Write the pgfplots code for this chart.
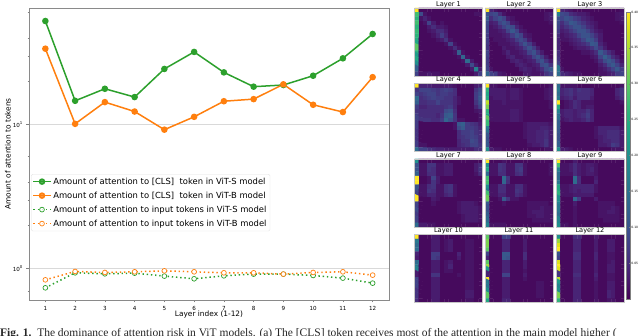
\documentclass[border=0pt]{standalone}
\usepackage{fontspec}
\setmainfont{DejaVu Sans}
\newfontfamily\capfont{Liberation Serif}
\usepackage{pgfplots}
\pgfplotsset{compat=1.18}
\definecolor{tabgreen}{HTML}{2CA02C}
\definecolor{taborange}{HTML}{FF7F0E}
\definecolor{spine}{HTML}{8A8A8A}

% one heatmap: values are 16x16 cells, row by row, in hundredths
\newcommand{\panel}[5][]{%
\begin{axis}[
    at={(#3pt,#4pt)}, anchor=south west, scale only axis,
    width=68pt, height=68pt,
    xmin=-0.5, xmax=15.5, ymin=-0.5, ymax=15.5,
    y dir=reverse, xtick=\empty, ytick=\empty,
    colormap/viridis, point meta min=0, point meta max=40,
    axis line style={draw=gray!45, line width=0.5pt}, axis on top,
    title={#2},
    title style={font=\fontsize{6.6}{7}\selectfont, at={(0.5,1)}, anchor=south, yshift=-9pt},
    #1
]
\addplot[matrix plot, mesh/cols=16, point meta=\thisrowno{0}] table[
    row sep=crcr, header=false,
    x expr={mod(\coordindex,16)}, y expr={floor(\coordindex/16)}
] {#5};
\end{axis}}

\begin{document}
\begin{tikzpicture}[x=1pt,y=1pt]
\useasboundingbox (0,0) rectangle (640,335);
\clip (0,0) rectangle (640,335);

\begin{axis}[
    at={(29pt,35pt)}, anchor=south west, scale only axis,
    width=360pt, height=292pt,
    ymode=log,
    xmin=0.45, xmax=12.55, ymin=0.604, ymax=64.4,
    xtick={1,...,12},
    ytick={1,10}, yticklabels={10\textsuperscript{0},10\textsuperscript{1}},
    minor ytick={0.6,0.7,2,3,4,6,20,30,40,60},
    ymajorgrids, grid style={draw=gray!30, line width=0.8pt},
    tick label style={font=\fontsize{5.6}{6}\selectfont},
    /pgf/number format/assume math mode=true,
    tick style={draw=gray, line width=0.4pt},
    major tick length=2.5pt, minor tick length=1.5pt,
    tick align=outside, xtick pos=bottom, ytick pos=left,
    axis line style={draw=spine, line width=0.8pt},
    xlabel={Layer index (1-12)}, ylabel={Amount of attention to tokens},
    label style={font=\fontsize{7.4}{8}\selectfont},
    xlabel style={at={(axis description cs:0.5,0)}, anchor=north, yshift=-10pt, inner sep=1pt},
    ylabel style={at={(axis description cs:0,0.5)}, anchor=south, yshift=17pt, inner sep=1pt},
    legend cell align=left,
    legend style={
        at={(axis description cs:0.0056,0.4315)}, anchor=north west,
        font=\fontsize{8.4}{9}\selectfont, draw=gray!25, rounded corners=1.5pt,
        fill=white, fill opacity=0.8, text opacity=1,
        row sep=2.1pt, inner sep=1.5pt,
        /tikz/every even column/.append style={column sep=3pt},
    },
]
\addplot[tabgreen, line width=1.5pt, mark=*, mark size=2.5pt] coordinates {
    (1,52.3) (2,14.6) (3,17.7) (4,15.5) (5,24.3) (6,31.9)
    (7,23.0) (8,18.3) (9,18.8) (10,21.8) (11,28.8) (12,42.5)
};
\addlegendentry{Amount of attention to [CLS]\ \ token in ViT-S model}
\addplot[taborange, line width=1.5pt, mark=*, mark size=2.5pt] coordinates {
    (1,33.6) (2,10.1) (3,14.3) (4,12.3) (5,9.2) (6,11.3)
    (7,14.5) (8,15.0) (9,19.0) (10,13.7) (11,12.2) (12,21.3)
};
\addlegendentry{Amount of attention to [CLS]\ \ token in ViT-B model}
\addplot[tabgreen, line width=1.5pt, dash pattern=on 1.4pt off 2.8pt, mark=*, mark size=2.4pt,
    mark options={solid, fill=white, draw=tabgreen, line width=0.7pt}] coordinates {
    (1,0.734) (2,0.933) (3,0.918) (4,0.928) (5,0.885) (6,0.848)
    (7,0.889) (8,0.914) (9,0.914) (10,0.894) (11,0.857) (12,0.791)
};
\addlegendentry{Amount of attention to input tokens in ViT-S model}
\addplot[taborange, line width=1.5pt, dash pattern=on 1.4pt off 2.8pt, mark=*, mark size=2.4pt,
    mark options={solid, fill=white, draw=taborange, line width=0.7pt}] coordinates {
    (1,0.834) (2,0.953) (3,0.938) (4,0.948) (5,0.963) (6,0.948)
    (7,0.933) (8,0.933) (9,0.914) (10,0.938) (11,0.948) (12,0.899)
};
\addlegendentry{Amount of attention to input tokens in ViT-B model}
\end{axis}

\panel{Layer 1}{414.5}{259}{
40\\1\\1\\1\\1\\1\\1\\1\\1\\1\\1\\1\\1\\1\\1\\1\\
28\\9\\2\\1\\1\\1\\1\\1\\1\\1\\1\\1\\1\\1\\2\\2\\
26\\2\\4\\2\\1\\1\\1\\1\\1\\1\\1\\1\\1\\1\\1\\1\\
28\\1\\2\\8\\3\\1\\2\\1\\1\\1\\1\\1\\1\\1\\1\\1\\
26\\1\\1\\3\\5\\3\\3\\2\\1\\1\\1\\1\\1\\1\\1\\1\\
27\\1\\1\\2\\3\\5\\5\\3\\1\\1\\1\\1\\1\\1\\1\\1\\
26\\1\\1\\1\\2\\4\\7\\4\\1\\1\\1\\1\\1\\1\\1\\1\\
25\\1\\1\\1\\1\\2\\3\\6\\2\\1\\1\\1\\1\\1\\1\\1\\
24\\1\\1\\1\\1\\1\\1\\2\\8\\2\\1\\1\\1\\1\\1\\1\\
30\\1\\1\\1\\1\\1\\1\\1\\2\\5\\2\\1\\1\\1\\1\\1\\
26\\1\\1\\1\\1\\1\\1\\1\\1\\2\\12\\2\\1\\1\\1\\1\\
22\\1\\1\\1\\1\\1\\1\\1\\1\\1\\2\\13\\2\\1\\1\\1\\
24\\1\\1\\1\\1\\1\\1\\1\\1\\1\\1\\2\\14\\3\\1\\1\\
20\\1\\1\\1\\1\\1\\1\\1\\1\\1\\1\\1\\3\\9\\3\\1\\
12\\1\\1\\1\\1\\1\\1\\1\\1\\1\\1\\1\\1\\3\\18\\3\\
8\\2\\2\\3\\2\\2\\1\\1\\1\\1\\1\\1\\1\\1\\3\\7\\
}
\panel{Layer 2}{485}{259}{
40\\4\\2\\1\\1\\1\\1\\1\\1\\1\\1\\1\\1\\1\\1\\1\\
10\\8\\9\\5\\2\\1\\1\\1\\1\\1\\1\\1\\1\\1\\2\\3\\
12\\5\\8\\10\\8\\3\\2\\1\\1\\1\\1\\1\\1\\1\\2\\3\\
9\\3\\4\\8\\10\\8\\3\\2\\1\\1\\1\\1\\1\\1\\1\\2\\
8\\2\\3\\5\\8\\10\\9\\4\\2\\1\\1\\1\\1\\1\\1\\1\\
8\\2\\2\\3\\4\\8\\11\\8\\3\\2\\1\\1\\1\\1\\1\\1\\
7\\2\\2\\2\\3\\4\\7\\10\\8\\3\\2\\1\\1\\1\\1\\1\\
7\\1\\2\\2\\2\\3\\4\\7\\9\\7\\3\\1\\1\\1\\1\\1\\
7\\1\\1\\2\\2\\2\\3\\4\\7\\10\\7\\3\\1\\1\\1\\1\\
6\\1\\1\\1\\3\\2\\2\\3\\4\\7\\10\\7\\3\\1\\1\\1\\
8\\1\\1\\1\\2\\4\\2\\2\\3\\4\\8\\10\\6\\3\\1\\1\\
8\\1\\1\\1\\1\\3\\4\\2\\2\\3\\4\\8\\10\\7\\3\\1\\
7\\1\\1\\1\\1\\1\\3\\4\\3\\2\\3\\4\\8\\10\\6\\3\\
7\\1\\1\\1\\1\\1\\1\\3\\4\\3\\2\\3\\4\\9\\10\\6\\
8\\2\\1\\1\\1\\1\\1\\1\\3\\4\\3\\2\\3\\5\\9\\11\\
13\\8\\7\\3\\2\\1\\1\\1\\1\\3\\3\\2\\2\\3\\6\\8\\
}
\panel[colorbar,
    colorbar style={
        at={(parent axis.north east)}, anchor=north west, xshift=-6.5pt, yshift=-4pt,
        scale only axis, width=4.4pt, height=287pt,
        ytick={5,10,...,40},
        yticklabels={0.05,0.10,0.15,0.20,0.25,0.30,0.35,0.40},
        yticklabel style={font=\fontsize{3}{3}\selectfont, inner sep=0.8pt},
        major tick length=1pt, tick style={draw=gray, line width=0.2pt},
        axis line style={draw=gray, line width=0.4pt},
    }]{Layer 3}{556}{259}{
40\\4\\3\\2\\1\\1\\1\\1\\1\\1\\1\\1\\1\\1\\1\\2\\
17\\9\\8\\5\\4\\3\\3\\2\\1\\1\\1\\1\\1\\1\\2\\3\\
10\\8\\10\\9\\7\\6\\4\\3\\2\\1\\1\\1\\1\\1\\2\\3\\
9\\5\\8\\11\\10\\8\\6\\4\\3\\2\\1\\1\\1\\1\\1\\2\\
8\\4\\6\\8\\10\\10\\8\\5\\4\\2\\1\\1\\1\\1\\1\\1\\
7\\3\\4\\6\\8\\10\\10\\8\\5\\3\\2\\1\\1\\1\\1\\1\\
5\\2\\3\\4\\5\\8\\10\\10\\8\\5\\3\\1\\1\\1\\1\\1\\
4\\2\\2\\3\\4\\5\\8\\11\\10\\7\\3\\1\\1\\1\\1\\1\\
4\\1\\1\\2\\3\\4\\5\\7\\11\\10\\4\\2\\1\\1\\1\\1\\
4\\1\\1\\1\\2\\3\\3\\4\\6\\9\\6\\3\\1\\1\\1\\1\\
5\\1\\1\\1\\1\\1\\2\\2\\3\\5\\11\\8\\5\\3\\1\\1\\
5\\1\\1\\1\\1\\1\\1\\1\\2\\3\\8\\12\\9\\5\\3\\1\\
6\\1\\1\\1\\1\\1\\1\\1\\1\\2\\5\\9\\11\\9\\5\\2\\
8\\1\\1\\1\\1\\1\\1\\1\\1\\1\\3\\5\\9\\11\\8\\4\\
16\\2\\1\\1\\1\\1\\1\\1\\1\\1\\2\\3\\5\\8\\11\\7\\
14\\5\\4\\3\\2\\2\\1\\1\\1\\1\\2\\2\\3\\4\\7\\8\\
}

\panel{Layer 4}{414.5}{183.3}{
40\\4\\4\\4\\3\\3\\3\\3\\3\\2\\1\\1\\1\\1\\3\\4\\
6\\8\\8\\8\\7\\6\\7\\8\\7\\5\\1\\1\\1\\1\\6\\9\\
8\\6\\7\\8\\8\\6\\7\\7\\6\\5\\1\\1\\1\\1\\7\\10\\
14\\5\\6\\7\\8\\7\\7\\6\\6\\4\\2\\1\\1\\1\\7\\11\\
12\\5\\5\\6\\6\\8\\6\\6\\6\\4\\2\\1\\1\\1\\6\\10\\
7\\4\\4\\5\\5\\5\\5\\6\\7\\4\\1\\1\\1\\1\\4\\8\\
6\\5\\5\\5\\5\\5\\5\\9\\10\\5\\1\\1\\1\\1\\2\\3\\
7\\5\\5\\5\\5\\4\\6\\11\\12\\6\\1\\1\\1\\1\\1\\2\\
8\\6\\6\\6\\5\\5\\7\\13\\10\\6\\2\\2\\1\\1\\1\\2\\
7\\1\\1\\1\\1\\1\\1\\1\\1\\2\\11\\12\\7\\6\\5\\3\\
7\\1\\1\\1\\1\\1\\1\\1\\1\\2\\9\\11\\7\\7\\6\\4\\
6\\1\\1\\1\\1\\1\\1\\1\\1\\1\\5\\7\\7\\8\\6\\5\\
6\\1\\1\\1\\1\\1\\1\\1\\1\\1\\5\\6\\7\\8\\7\\5\\
6\\1\\1\\1\\1\\1\\1\\1\\1\\1\\4\\6\\6\\9\\8\\5\\
7\\2\\2\\1\\1\\1\\1\\1\\1\\1\\4\\5\\6\\8\\8\\6\\
14\\8\\8\\6\\5\\4\\4\\3\\3\\3\\3\\3\\3\\3\\5\\5\\
}
\panel{Layer 5}{485}{183.3}{
40\\2\\2\\1\\1\\1\\1\\1\\1\\1\\1\\1\\1\\1\\1\\2\\
26\\3\\3\\3\\3\\2\\3\\3\\2\\1\\1\\1\\1\\1\\2\\3\\
24\\3\\3\\3\\3\\2\\3\\3\\2\\1\\1\\1\\1\\1\\2\\3\\
25\\2\\3\\3\\3\\2\\3\\3\\2\\1\\1\\1\\1\\1\\2\\3\\
36\\2\\2\\2\\3\\2\\2\\2\\2\\1\\1\\1\\1\\1\\1\\2\\
32\\2\\2\\2\\2\\2\\2\\2\\2\\1\\1\\1\\1\\1\\1\\2\\
26\\2\\2\\2\\2\\2\\3\\3\\2\\1\\1\\1\\1\\1\\1\\1\\
24\\2\\2\\2\\2\\2\\3\\3\\2\\1\\1\\1\\1\\1\\1\\1\\
30\\2\\2\\2\\2\\2\\3\\3\\2\\1\\1\\1\\1\\1\\1\\1\\
27\\1\\1\\1\\1\\1\\1\\1\\1\\2\\3\\3\\3\\3\\3\\2\\
18\\1\\1\\1\\1\\1\\1\\1\\1\\2\\3\\3\\3\\4\\4\\3\\
15\\1\\1\\1\\1\\1\\1\\1\\1\\2\\3\\3\\4\\4\\5\\3\\
11\\1\\1\\1\\1\\1\\1\\1\\1\\2\\3\\3\\4\\4\\5\\3\\
10\\1\\1\\1\\1\\1\\1\\1\\1\\1\\3\\3\\4\\4\\6\\3\\
11\\1\\1\\1\\1\\1\\1\\1\\1\\1\\2\\3\\3\\4\\6\\3\\
20\\3\\2\\2\\1\\1\\1\\1\\1\\1\\1\\1\\1\\1\\2\\2\\
}
\panel{Layer 6}{556}{183.3}{
14\\2\\2\\2\\2\\1\\1\\1\\1\\1\\1\\1\\1\\1\\1\\2\\
16\\4\\5\\6\\4\\6\\5\\5\\4\\1\\1\\1\\1\\1\\4\\6\\
14\\4\\5\\6\\4\\5\\5\\5\\4\\1\\1\\1\\1\\1\\4\\6\\
16\\3\\4\\5\\3\\5\\5\\5\\3\\1\\1\\1\\1\\1\\3\\5\\
40\\1\\2\\3\\5\\4\\2\\2\\2\\1\\1\\1\\1\\1\\1\\2\\
24\\1\\2\\3\\5\\4\\2\\3\\3\\1\\1\\1\\1\\1\\1\\1\\
18\\3\\4\\4\\3\\4\\4\\6\\4\\1\\1\\1\\1\\1\\1\\1\\
14\\3\\4\\4\\3\\4\\5\\7\\4\\1\\1\\1\\1\\1\\1\\1\\
15\\2\\3\\4\\3\\3\\4\\6\\4\\1\\1\\1\\1\\1\\1\\1\\
12\\1\\1\\1\\1\\1\\1\\1\\1\\1\\1\\1\\1\\1\\1\\1\\
12\\1\\1\\1\\1\\1\\1\\1\\1\\2\\4\\4\\4\\4\\4\\2\\
11\\1\\1\\1\\1\\1\\1\\1\\1\\2\\4\\4\\5\\5\\5\\3\\
10\\1\\1\\1\\1\\1\\1\\1\\1\\2\\3\\4\\5\\5\\5\\3\\
10\\1\\1\\1\\1\\1\\1\\1\\1\\1\\3\\4\\4\\5\\5\\3\\
12\\1\\1\\1\\1\\1\\1\\1\\1\\1\\3\\3\\4\\7\\6\\3\\
20\\3\\3\\2\\1\\1\\1\\1\\1\\1\\1\\1\\1\\2\\2\\2\\
}

\panel{Layer 7}{414.5}{108}{
20\\1\\1\\1\\1\\1\\1\\1\\1\\1\\1\\1\\1\\1\\1\\1\\
10\\2\\2\\6\\6\\2\\2\\3\\3\\1\\1\\1\\1\\1\\3\\5\\
10\\2\\2\\6\\5\\2\\2\\3\\3\\1\\1\\1\\1\\1\\3\\6\\
12\\2\\2\\5\\5\\2\\2\\3\\3\\1\\1\\1\\1\\1\\2\\5\\
40\\1\\1\\2\\8\\3\\1\\1\\1\\1\\1\\1\\1\\1\\1\\1\\
40\\1\\1\\2\\6\\3\\1\\1\\1\\1\\1\\1\\1\\1\\1\\1\\
10\\2\\2\\5\\6\\2\\2\\5\\6\\2\\1\\1\\1\\1\\1\\1\\
10\\2\\2\\6\\5\\2\\2\\5\\6\\2\\1\\1\\1\\1\\1\\1\\
8\\2\\2\\4\\4\\2\\2\\4\\5\\2\\1\\1\\1\\1\\1\\1\\
40\\1\\1\\1\\3\\2\\1\\1\\1\\1\\1\\1\\1\\1\\1\\1\\
8\\1\\1\\1\\2\\1\\1\\1\\1\\1\\2\\3\\3\\3\\2\\1\\
8\\1\\1\\1\\1\\1\\1\\1\\1\\1\\2\\3\\3\\3\\3\\2\\
9\\1\\1\\1\\1\\1\\1\\1\\1\\1\\2\\3\\3\\3\\3\\2\\
7\\1\\1\\1\\1\\1\\1\\1\\1\\1\\1\\2\\3\\3\\3\\2\\
8\\1\\1\\1\\1\\1\\1\\1\\1\\1\\1\\2\\3\\3\\3\\2\\
14\\3\\3\\2\\2\\1\\1\\1\\1\\1\\1\\1\\1\\1\\1\\1\\
}
\panel{Layer 8}{485}{108}{
40\\1\\1\\1\\2\\1\\1\\1\\1\\1\\1\\1\\1\\1\\1\\1\\
20\\2\\2\\6\\5\\2\\2\\6\\6\\2\\1\\1\\1\\1\\1\\2\\
24\\2\\2\\6\\5\\2\\2\\6\\7\\2\\1\\1\\1\\1\\1\\2\\
14\\2\\2\\5\\5\\2\\2\\5\\6\\2\\1\\1\\1\\1\\1\\2\\
28\\1\\1\\1\\14\\6\\1\\1\\1\\1\\1\\1\\1\\1\\1\\1\\
28\\1\\1\\1\\13\\5\\1\\1\\1\\1\\1\\1\\1\\1\\1\\1\\
20\\2\\2\\5\\5\\2\\2\\5\\5\\2\\1\\1\\1\\1\\1\\1\\
16\\2\\2\\5\\5\\2\\2\\6\\5\\2\\1\\1\\1\\1\\1\\1\\
28\\2\\2\\4\\4\\2\\2\\5\\4\\2\\1\\1\\1\\1\\1\\1\\
31\\1\\1\\2\\11\\6\\2\\2\\1\\1\\1\\1\\1\\1\\1\\1\\
12\\1\\1\\1\\2\\1\\1\\1\\1\\1\\2\\2\\2\\2\\2\\1\\
10\\1\\1\\1\\1\\1\\1\\1\\1\\1\\2\\2\\2\\3\\2\\2\\
10\\1\\1\\1\\1\\1\\1\\1\\1\\1\\2\\3\\3\\3\\2\\2\\
12\\1\\1\\1\\1\\1\\1\\1\\1\\1\\2\\2\\3\\3\\2\\2\\
14\\1\\1\\1\\1\\1\\1\\1\\1\\1\\1\\2\\2\\2\\2\\2\\
18\\2\\2\\2\\2\\1\\1\\1\\1\\1\\1\\1\\1\\1\\1\\1\\
}
\panel{Layer 9}{556}{108}{
40\\1\\1\\1\\3\\1\\1\\1\\1\\1\\1\\1\\1\\1\\1\\1\\
28\\2\\2\\3\\5\\3\\2\\3\\3\\2\\1\\1\\1\\1\\1\\1\\
18\\2\\2\\3\\5\\3\\2\\3\\4\\2\\1\\1\\1\\1\\1\\1\\
14\\2\\2\\2\\5\\3\\2\\3\\3\\2\\1\\1\\1\\1\\1\\1\\
14\\1\\1\\1\\14\\5\\1\\1\\1\\3\\1\\1\\1\\1\\1\\1\\
16\\1\\1\\1\\14\\5\\1\\1\\1\\4\\1\\1\\1\\1\\1\\1\\
24\\2\\2\\3\\4\\4\\4\\4\\4\\2\\1\\1\\1\\1\\1\\1\\
24\\2\\2\\3\\4\\3\\4\\4\\4\\2\\1\\1\\1\\1\\1\\1\\
26\\2\\2\\2\\3\\3\\3\\3\\3\\1\\1\\1\\1\\1\\1\\1\\
20\\1\\1\\1\\13\\7\\1\\1\\1\\3\\1\\1\\1\\1\\1\\1\\
18\\1\\1\\1\\3\\1\\1\\1\\1\\1\\2\\2\\2\\2\\1\\1\\
16\\1\\1\\1\\2\\1\\1\\1\\1\\1\\2\\2\\2\\3\\2\\1\\
16\\1\\1\\1\\2\\1\\1\\1\\1\\1\\2\\2\\3\\3\\2\\1\\
14\\1\\1\\1\\2\\1\\1\\1\\1\\1\\2\\2\\2\\2\\2\\1\\
18\\1\\1\\1\\2\\1\\1\\1\\1\\1\\1\\2\\2\\2\\2\\1\\
20\\2\\2\\1\\2\\1\\1\\1\\1\\1\\1\\1\\1\\1\\1\\1\\
}

\panel{Layer 10}{414.5}{32.3}{
40\\1\\1\\1\\3\\3\\1\\1\\1\\1\\1\\1\\1\\1\\1\\1\\
16\\1\\1\\1\\3\\3\\1\\2\\3\\1\\1\\1\\2\\2\\1\\1\\
14\\1\\1\\1\\3\\3\\1\\2\\3\\1\\1\\1\\2\\2\\1\\1\\
14\\1\\1\\1\\3\\3\\1\\2\\3\\1\\1\\1\\2\\2\\1\\1\\
4\\1\\1\\1\\7\\7\\1\\1\\1\\1\\4\\1\\2\\2\\1\\1\\
3\\1\\1\\1\\7\\6\\1\\1\\1\\1\\3\\1\\2\\2\\1\\1\\
14\\1\\1\\1\\3\\3\\1\\2\\3\\1\\1\\1\\2\\2\\1\\1\\
16\\1\\1\\1\\3\\3\\1\\2\\4\\1\\1\\1\\2\\2\\1\\1\\
18\\1\\1\\1\\3\\3\\1\\2\\2\\1\\1\\1\\2\\2\\1\\1\\
3\\1\\1\\1\\6\\6\\1\\1\\1\\1\\2\\1\\2\\2\\1\\1\\
8\\1\\1\\1\\3\\3\\1\\1\\1\\1\\1\\1\\2\\2\\1\\1\\
8\\1\\1\\1\\3\\3\\1\\1\\1\\1\\1\\1\\2\\2\\1\\1\\
8\\1\\1\\1\\3\\3\\1\\1\\1\\1\\1\\1\\2\\2\\1\\1\\
6\\1\\1\\1\\3\\3\\1\\1\\1\\1\\1\\1\\3\\3\\1\\1\\
6\\1\\1\\1\\3\\3\\1\\1\\1\\1\\1\\1\\3\\3\\1\\1\\
5\\1\\1\\1\\3\\3\\1\\1\\1\\1\\1\\1\\2\\2\\1\\1\\
}
\panel{Layer 11}{485}{32.3}{
30\\1\\1\\1\\8\\8\\1\\1\\1\\2\\1\\1\\1\\1\\1\\1\\
32\\1\\1\\1\\4\\4\\1\\1\\1\\3\\1\\1\\1\\1\\1\\1\\
32\\1\\1\\1\\4\\4\\1\\1\\1\\3\\1\\1\\1\\1\\1\\1\\
30\\1\\1\\1\\4\\4\\1\\1\\1\\3\\1\\1\\1\\1\\1\\1\\
8\\1\\1\\1\\11\\11\\1\\1\\1\\5\\1\\1\\1\\1\\1\\1\\
4\\1\\1\\1\\11\\10\\1\\1\\1\\5\\1\\1\\1\\1\\1\\1\\
30\\1\\1\\1\\4\\4\\1\\1\\1\\3\\1\\1\\1\\1\\1\\1\\
34\\1\\1\\1\\4\\4\\1\\1\\1\\3\\1\\1\\1\\1\\1\\1\\
22\\1\\1\\1\\4\\4\\1\\1\\1\\2\\1\\1\\1\\1\\1\\1\\
4\\1\\1\\1\\8\\8\\1\\1\\1\\3\\1\\1\\1\\1\\1\\1\\
40\\1\\1\\1\\3\\3\\1\\1\\1\\2\\1\\1\\1\\1\\1\\1\\
16\\1\\1\\1\\3\\3\\1\\1\\1\\1\\1\\1\\2\\2\\1\\1\\
16\\1\\1\\1\\3\\3\\1\\1\\1\\1\\1\\1\\2\\2\\1\\1\\
20\\1\\1\\1\\3\\3\\1\\1\\1\\1\\1\\1\\2\\2\\1\\1\\
30\\1\\1\\1\\3\\3\\1\\1\\1\\1\\1\\1\\2\\2\\1\\1\\
24\\1\\1\\1\\4\\4\\1\\1\\1\\1\\1\\1\\1\\1\\1\\1\\
}
\panel{Layer 12}{556}{32.3}{
20\\1\\1\\1\\5\\5\\1\\1\\1\\3\\1\\1\\1\\1\\1\\1\\
34\\1\\1\\1\\4\\4\\1\\1\\1\\3\\1\\1\\3\\3\\1\\1\\
38\\1\\1\\1\\4\\4\\1\\1\\1\\3\\1\\1\\3\\3\\1\\1\\
40\\1\\1\\1\\4\\4\\1\\1\\1\\3\\1\\1\\3\\3\\1\\1\\
10\\1\\1\\1\\5\\5\\1\\1\\1\\4\\1\\1\\2\\2\\1\\1\\
8\\1\\1\\1\\5\\5\\1\\1\\1\\4\\1\\1\\2\\2\\1\\1\\
38\\1\\1\\1\\4\\4\\1\\1\\1\\3\\1\\1\\2\\3\\1\\1\\
40\\1\\1\\1\\4\\4\\1\\1\\1\\3\\1\\1\\3\\3\\1\\1\\
38\\1\\1\\1\\4\\4\\1\\1\\1\\3\\1\\1\\3\\3\\1\\1\\
6\\1\\1\\1\\5\\5\\1\\1\\1\\4\\1\\1\\2\\2\\1\\1\\
36\\1\\1\\1\\4\\4\\1\\1\\1\\3\\1\\1\\2\\2\\1\\1\\
22\\1\\1\\1\\4\\4\\1\\1\\1\\2\\1\\1\\3\\3\\1\\1\\
18\\1\\1\\1\\4\\4\\1\\1\\1\\2\\1\\1\\3\\3\\1\\1\\
20\\1\\1\\1\\4\\4\\1\\1\\1\\2\\1\\1\\4\\3\\1\\1\\
32\\1\\1\\1\\4\\4\\1\\1\\1\\2\\1\\1\\4\\3\\1\\1\\
26\\1\\1\\1\\4\\4\\1\\1\\1\\2\\1\\1\\2\\2\\1\\1\\
}

\node[anchor=base west, inner sep=0pt, text=black!85] at (0,-1)
  {\capfont\fontsize{11.5}{12}\selectfont\textbf{Fig. 1.}\ \ The dominance of attention risk in ViT models. (a) The [CLS] token receives most of the attention in the main model higher (};
\end{tikzpicture}
\end{document}
